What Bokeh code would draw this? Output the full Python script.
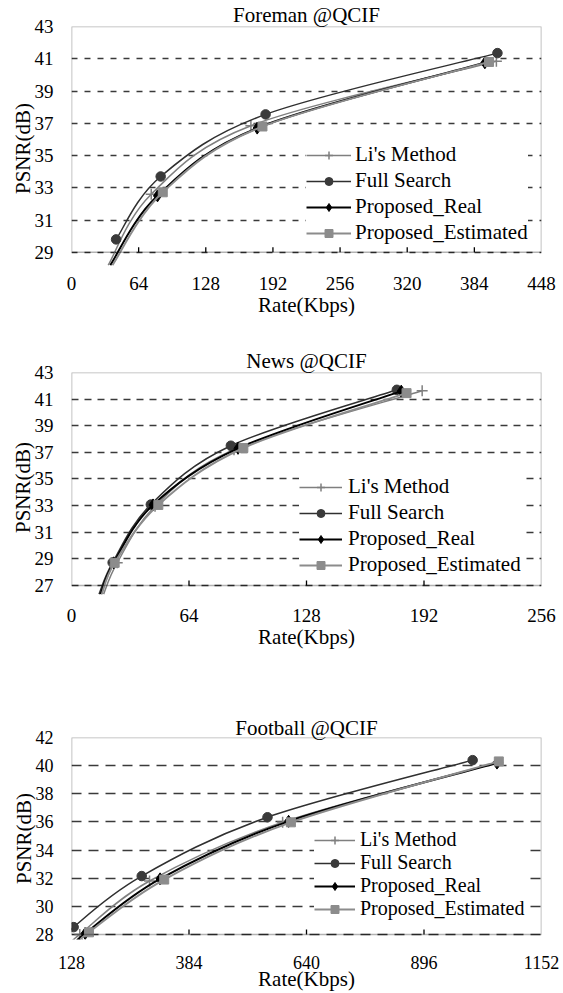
import numpy as np
from bokeh.plotting import figure
from bokeh.layouts import column
from bokeh.models import (FixedTicker, BoxAnnotation, Legend, LegendItem, Title,
                          ColumnDataSource, CDSView, BooleanFilter, Range1d)
from bokeh.embed import file_html
from bokeh.resources import INLINE

FONT = "'Liberation Serif', 'Times New Roman', serif"
SERIES = ["Li's Method", "Full Search", "Proposed_Real", "Proposed_Estimated"]

# ---------------- Foreman @QCIF ----------------
foreman_xticks = [0, 64, 128, 192, 256, 320, 384, 448]
foreman_yticks = [29, 31, 33, 35, 37, 39, 41, 43]
foreman_li_rate = [35, 76, 171, 405]
foreman_li_psnr = [28.2, 32.6, 36.85, 40.85]
foreman_full_rate = [42.5, 85, 185, 406]
foreman_full_psnr = [29.8, 33.7, 37.55, 41.35]
foreman_real_rate = [37, 82, 177, 394]
foreman_real_psnr = [28.2, 32.5, 36.7, 40.75]
foreman_est_rate = [39, 87, 182, 398]
foreman_est_psnr = [28.2, 32.72, 36.8, 40.8]

# ---------------- News @QCIF ----------------
news_xticks = [0, 64, 128, 192, 256]
news_yticks = [27, 29, 31, 33, 35, 37, 39, 41, 43]
news_li_rate = [17.5, 24.9, 45.5, 88.5, 191]
news_li_psnr = [26.35, 28.7, 32.95, 37.2, 41.63]
news_full_rate = [15, 22.4, 43.2, 86.8, 177.2]
news_full_psnr = [26.35, 28.72, 33.08, 37.5, 41.7]
news_real_rate = [15.8, 23, 44.4, 90.7, 179.6]
news_real_psnr = [26.35, 28.7, 33.05, 37.3, 41.6]
news_est_rate = [16.5, 23.5, 47.3, 93.6, 182.5]
news_est_psnr = [26.35, 28.7, 33.05, 37.33, 41.45]

# ---------------- Football @QCIF ----------------
fb_xticks = [128, 384, 640, 896, 1152]
fb_yticks = [28, 30, 32, 34, 36, 38, 40, 42]
fb_li_rate = [134, 146, 298, 588, 1057]
fb_li_psnr = [27.6, 28.0, 31.8, 35.98, 40.23]
fb_full_rate = [118, 132.7, 281, 555, 1002]
fb_full_psnr = [27.6, 28.52, 32.15, 36.33, 40.39]
fb_real_rate = [144, 157.8, 321, 601, 1055]
fb_real_psnr = [27.6, 28.07, 31.95, 36.04, 40.18]
fb_est_rate = [151, 166, 330, 606, 1059]
fb_est_psnr = [27.6, 28.15, 31.9, 35.97, 40.3]

STYLE = {
    "Li's Method": dict(color="#7f7f7f", lw=1.5, marker="cross", size=11, fill="#7f7f7f"),
    "Full Search": dict(color="#303030", lw=1.5, marker="circle", size=9.5, fill="#3a3a3a"),
    "Proposed_Real": dict(color="#000000", lw=2.0, marker="diamond", size=12, fill="#000000"),
    "Proposed_Estimated": dict(color="#8c8c8c", lw=2.0, marker="square", size=9, fill="#8c8c8c"),
}


def smooth_segments(xs, ys):
    """Catmull-Rom style control points for a smoothed line through the data."""
    n = len(xs)
    out = {k: [] for k in ("x0", "y0", "x1", "y1", "cx0", "cy0", "cx1", "cy1")}
    for i in range(n - 1):
        xp, yp = (xs[i - 1], ys[i - 1]) if i > 0 else (xs[i], ys[i])
        xn, yn = (xs[i + 2], ys[i + 2]) if i + 2 < n else (xs[i + 1], ys[i + 1])
        out["x0"].append(xs[i]); out["y0"].append(ys[i])
        out["x1"].append(xs[i + 1]); out["y1"].append(ys[i + 1])
        out["cx0"].append(xs[i] + (xs[i + 1] - xp) / 6.0)
        out["cy0"].append(ys[i] + (ys[i + 1] - yp) / 6.0)
        out["cx1"].append(xs[i + 1] - (xn - xs[i]) / 6.0)
        out["cy1"].append(ys[i + 1] - (yn - ys[i]) / 6.0)
    return out


def make_panel(title, title_shift, title_standoff, xticks, yticks, ystart, data, height,
               mb_left, mb_right, mb_top, mb_bottom, dash, tick_fs, leg_fs,
               leg_loc, glyph_w, leg_standoff, leg_spacing, label_h,
               xlab_standoff, xaxis_standoff):
    ttl = Title(text=title, align="center", offset=title_shift, standoff=title_standoff,
                text_font=FONT, text_font_size="21px", text_font_style="normal",
                text_color="black")
    p = figure(width=563, height=height, title=ttl,
               x_range=Range1d(xticks[0], xticks[-1]),
               y_range=Range1d(ystart, yticks[-1]),
               output_backend="svg", toolbar_location=None,
               min_border_left=mb_left, min_border_right=mb_right,
               min_border_top=mb_top, min_border_bottom=mb_bottom)
    p.outline_line_color = None
    p.background_fill_color = "white"
    p.border_fill_color = "white"

    # axes
    p.xaxis.ticker = FixedTicker(ticks=xticks)
    p.yaxis.ticker = FixedTicker(ticks=yticks)
    for ax in (p.xaxis, p.yaxis):
        ax.axis_line_color = None
        ax.major_tick_line_color = None
        ax.minor_tick_line_color = None
        ax.major_tick_out = 0
        ax.major_tick_in = 0
        ax.major_label_text_font = FONT
        ax.major_label_text_font_size = tick_fs
        ax.major_label_text_color = "black"
        ax.axis_label_text_font = FONT
        ax.axis_label_text_font_size = "21px"
        ax.axis_label_text_font_style = "normal"
        ax.axis_label_text_color = "black"
    p.xaxis.axis_label = "Rate(Kbps)"
    p.xaxis.major_label_standoff = xlab_standoff
    p.xaxis.axis_label_standoff = xaxis_standoff
    p.yaxis.axis_label = "PSNR(dB)"
    p.yaxis.major_label_standoff = 18
    p.yaxis.axis_label_standoff = -3

    # grid
    p.xgrid.visible = False
    p.ygrid.ticker = FixedTicker(ticks=yticks)
    p.ygrid.grid_line_color = "#3a3a3a"
    p.ygrid.grid_line_dash = dash
    p.ygrid.grid_line_width = 1.3

    # plot-area frame and inner ticks on the x axis line
    p.add_layout(BoxAnnotation(left=xticks[0], right=xticks[-1],
                               bottom=yticks[0], top=yticks[-1],
                               fill_alpha=0, line_color="black", line_width=1.6))
    inner = xticks[1:-1]
    p.ray(x=inner, y=[yticks[0]] * len(inner), length=5, length_units="screen",
          angle=np.pi / 2, line_color="black", line_width=1.3)

    items = []
    for name, (xs, ys) in zip(SERIES, data):
        st = STYLE[name]
        seg = smooth_segments(xs, ys)
        r_line = p.bezier(source=ColumnDataSource(seg), x0="x0", y0="y0", x1="x1", y1="y1",
                          cx0="cx0", cy0="cy0", cx1="cx1", cy1="cy1",
                          line_color=st["color"], line_width=st["lw"])
        src = ColumnDataSource(dict(x=xs, y=ys))
        mask = [y >= yticks[0] for y in ys]
        r_mark = p.scatter("x", "y", source=src, view=CDSView(filter=BooleanFilter(mask)),
                           marker=st["marker"], size=st["size"],
                           fill_color=st["fill"], line_color=st["fill"],
                           line_width=1.5 if st["marker"] == "cross" else 1)
        items.append(LegendItem(label=name, renderers=[r_line, r_mark]))

    legend = Legend(items=items, location=leg_loc, orientation="vertical",
                    background_fill_color="white", background_fill_alpha=1.0,
                    border_line_color=None, label_text_font=FONT,
                    label_text_font_size=leg_fs, label_text_color="black",
                    glyph_width=glyph_w, glyph_height=label_h, label_height=label_h,
                    label_standoff=leg_standoff, spacing=leg_spacing,
                    padding=4, margin=0)
    p.add_layout(legend)
    return p


p1 = make_panel("Foreman @QCIF", -11, 0, foreman_xticks, foreman_yticks, 27.87,
                [(foreman_li_rate, foreman_li_psnr), (foreman_full_rate, foreman_full_psnr),
                 (foreman_real_rate, foreman_real_psnr), (foreman_est_rate, foreman_est_psnr)],
                330, 71, 20, 24, 60, "6 7", "19px", "21px", (235, 25), 45, 4, 1, 20, 6, 0)

p2 = make_panel("News @QCIF", 0, 0, news_xticks, news_yticks, 25.72,
                [(news_li_rate, news_li_psnr), (news_full_rate, news_full_psnr),
                 (news_real_rate, news_real_psnr), (news_est_rate, news_est_psnr)],
                330, 71, 17, 42, 58, "7 6", "19px", "21px", (228, 25), 43, 6, 1, 20, 6, 0)

p3 = make_panel("Football @QCIF", -20, -4, fb_xticks, fb_yticks, 27.64,
                [(fb_li_rate, fb_li_psnr), (fb_full_rate, fb_full_psnr),
                 (fb_real_rate, fb_real_psnr), (fb_est_rate, fb_est_psnr)],
                333, 71, 22, 77, 54, "10 7", "18px", "20px", (243, 19), 41, 5, 0, 20, 16, -5)

layout = column(p1, p2, p3)
open("out.html", "w").write(file_html(layout, INLINE))
